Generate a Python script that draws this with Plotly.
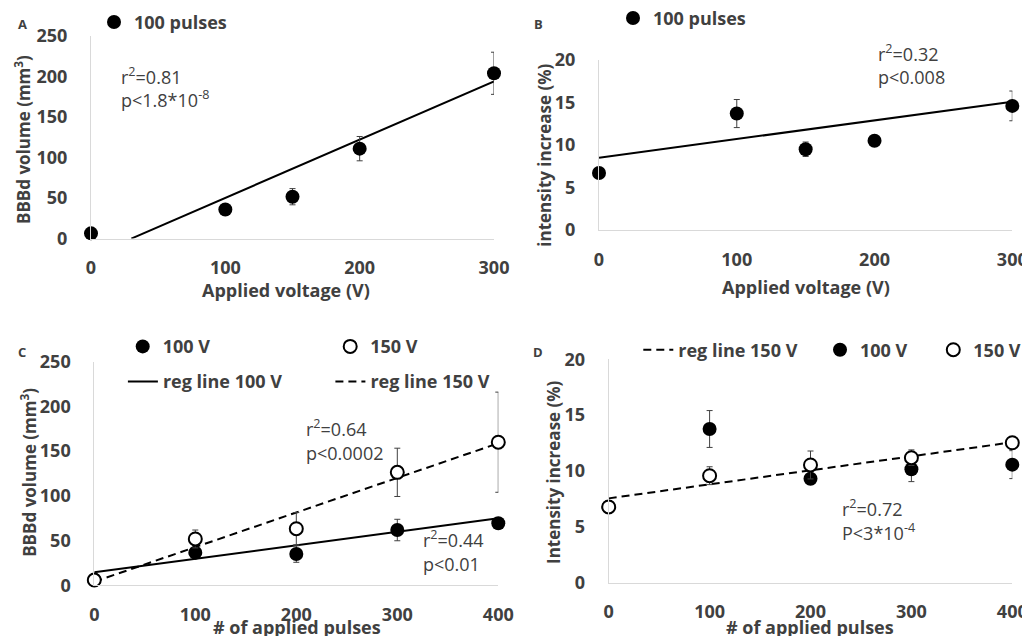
import plotly.graph_objects as go

# ---------------- data ----------------
volts = [0, 100, 150, 200, 300]
vol_A = [6.5, 36, 51.7, 111, 204]
err_A = [2, 3, 10, 15, 26]
regA_x = [30, 300]
regA_y = [0, 194]

int_B = [6.7, 13.7, 9.5, 10.5, 14.6]
err_B = [0.3, 1.65, 0.85, 0.3, 1.75]
regB_x = [0, 300]
regB_y = [8.5, 15.1]

pulses = [0, 100, 200, 300, 400]
vol_C_100 = [5.9, 36.5, 35, 61.8, 69.3]
err_C_100 = [1, 4, 9.3, 12, 5]
vol_C_150 = [5.9, 51.8, 63.3, 126.3, 160]
err_C_150 = [1, 10, 18, 27, 56]
regC100_x = [0, 400]
regC100_y = [14.5, 75]
regC150_x = [0, 400]
regC150_y = [4, 158.8]

int_D_100 = [6.8, 13.76, 9.3, 10.15, 10.57]
err_D_100 = [0.2, 1.65, 0.5, 1.1, 1.25]
int_D_150 = [6.78, 9.58, 10.54, 11.19, 12.53]
err_D_150 = [0.2, 0.8, 1.25, 0.7, 0.5]
regD150_x = [0, 400]
regD150_y = [7.55, 12.57]

# ---------------- styling ----------------
PAGE_W, PAGE_H = 1030, 636
BODY = 8                      # default page margin around the plot div
W, H = PAGE_W - BODY, PAGE_H - BODY
FONT = "Open Sans"
TXT = "#404040"
TICKFONT = dict(family=FONT, size=18, color=TXT, weight="bold")
LEGFONT = dict(family=FONT, size=18, color=TXT, weight="bold")


def px(x):
    return (x - BODY) / W


def py(y):
    return 1 - (y - BODY) / H


def err(vals):
    return dict(type="data", array=vals, visible=True, color="#404040",
                thickness=1, width=3)


filled = dict(symbol="circle", size=14, color="black")
hollow = dict(symbol="circle", size=13, color="white",
              line=dict(color="black", width=2))

fig = go.Figure()

# Panel A
fig.add_trace(go.Scatter(x=regA_x, y=regA_y, mode="lines",
                         line=dict(color="black", width=2), showlegend=False,
                         xaxis="x", yaxis="y"))
fig.add_trace(go.Scatter(x=volts, y=vol_A, mode="markers", marker=filled,
                         error_y=err(err_A), name="100 pulses", legend="legend",
                         cliponaxis=False, xaxis="x", yaxis="y"))
# Panel B
fig.add_trace(go.Scatter(x=regB_x, y=regB_y, mode="lines",
                         line=dict(color="black", width=2), showlegend=False,
                         xaxis="x2", yaxis="y2"))
fig.add_trace(go.Scatter(x=volts, y=int_B, mode="markers", marker=filled,
                         error_y=err(err_B), name="100 pulses", legend="legend2",
                         cliponaxis=False, xaxis="x2", yaxis="y2"))
# Panel C
fig.add_trace(go.Scatter(x=regC100_x, y=regC100_y, mode="lines",
                         line=dict(color="black", width=2),
                         name="reg line 100 V", legend="legend4",
                         xaxis="x3", yaxis="y3"))
fig.add_trace(go.Scatter(x=regC150_x, y=regC150_y, mode="lines",
                         line=dict(color="black", width=2, dash="8px,5px"),
                         name="reg line 150 V", legend="legend4",
                         xaxis="x3", yaxis="y3"))
fig.add_trace(go.Scatter(x=pulses, y=vol_C_100, mode="markers", marker=filled,
                         error_y=err(err_C_100), name="100 V", legend="legend3",
                         cliponaxis=False, xaxis="x3", yaxis="y3"))
fig.add_trace(go.Scatter(x=pulses, y=vol_C_150, mode="markers", marker=hollow,
                         error_y=err(err_C_150), name="150 V", legend="legend3",
                         cliponaxis=False, xaxis="x3", yaxis="y3"))
# Panel D
fig.add_trace(go.Scatter(x=regD150_x, y=regD150_y, mode="lines",
                         line=dict(color="black", width=2, dash="8px,5px"),
                         name="reg line 150 V", legend="legend5",
                         xaxis="x4", yaxis="y4"))
fig.add_trace(go.Scatter(x=pulses, y=int_D_100, mode="markers", marker=filled,
                         error_y=err(err_D_100), name="100 V", legend="legend6",
                         cliponaxis=False, xaxis="x4", yaxis="y4"))
fig.add_trace(go.Scatter(x=pulses, y=int_D_150, mode="markers", marker=hollow,
                         error_y=err(err_D_150), name="150 V", legend="legend7",
                         cliponaxis=False, xaxis="x4", yaxis="y4"))


def xax(dom, rng, anchor):
    return dict(domain=dom, range=rng, anchor=anchor, dtick=100, tick0=0,
                showgrid=False, zeroline=False, showline=True,
                linecolor="#d9d9d9", linewidth=1, ticks="",
                ticklabelstandoff=13, tickfont=TICKFONT, fixedrange=True)


def yax(dom, rng, dt, anchor):
    return dict(domain=dom, range=rng, anchor=anchor, dtick=dt, tick0=0,
                showgrid=False, zeroline=False, showline=True,
                linecolor="#d9d9d9", linewidth=1, ticks="",
                ticklabelstandoff=19, tickfont=TICKFONT, fixedrange=True)


def leg(x, y):
    return dict(x=px(x), y=py(y), xanchor="left", yanchor="middle",
                orientation="h", font=LEGFONT, bgcolor="rgba(0,0,0,0)",
                borderwidth=0, itemclick=False, itemdoubleclick=False)


OFF = 20  # legend symbol centre offset from legend left edge
legC = leg(142.7 - OFF, 346.7)
legC.update(entrywidth=162.5, entrywidthmode="pixels")
legC2 = leg(142.9 - OFF, 381.7)
legC2.update(entrywidth=162.5, entrywidthmode="pixels")

fig.update_layout(
    width=W, height=H,
    margin=dict(l=0, r=0, t=0, b=0, autoexpand=False),
    paper_bgcolor="white", plot_bgcolor="white",
    font=dict(family=FONT, color=TXT),
    xaxis=xax([px(91), px(494)], [0, 300], "y"),
    yaxis=yax([py(238.6), py(36)], [0, 250], 50, "x"),
    xaxis2=xax([px(599), px(1012.3)], [0, 300], "y2"),
    yaxis2=yax([py(230), py(60)], [0, 20], 5, "x2"),
    xaxis3=xax([px(94.3), px(498.3)], [0, 400], "y3"),
    yaxis3=yax([py(585.3), py(361.7)], [0, 250], 50, "x3"),
    xaxis4=xax([px(608.7), px(1012.3)], [0, 400], "y4"),
    yaxis4=yax([py(582.7), py(359.3)], [0, 20], 5, "x4"),
    legend=leg(114 - OFF, 22.3),
    legend2=leg(633 - OFF, 18.3),
    legend3=legC,
    legend4=legC2,
    legend5=leg(658.3 - OFF, 350),
    legend6=leg(840 - OFF, 350),
    legend7=leg(953.3 - OFF, 350),
)

ann = []


def note(text, x, y, size=18, bold=False, xanchor="left", angle=0):
    ann.append(dict(text=text, x=px(x), y=py(y), xref="paper", yref="paper",
                    xanchor=xanchor, yanchor="middle", showarrow=False,
                    textangle=angle,
                    font=dict(family=FONT, size=size, color=TXT,
                              weight="bold" if bold else "normal")))


# panel letters
note("A", 22, 24.3, 13, True, "center")
note("B", 538, 24, 13, True, "center")
note("C", 21.7, 351.7, 13, True, "center")
note("D", 538.3, 351.7, 13, True, "center")

# axis titles
note("Applied voltage (V)", 286.3, 290, 18, True, "center")
note("Applied voltage (V)", 805.8, 287, 18, True, "center")
note("# of applied pulses", 296.7, 627, 18, True, "center")
note("# of applied pulses", 810, 627.3, 18, True, "center")
note("BBBd volume (mm<sup>3</sup>)", 23, 140, 17, True, "center", -90)
note("intensity increase (%)", 545, 155.7, 17, True, "center", -90)
note("BBBd volume (mm<sup>3</sup>)", 28.3, 472.5, 17, True, "center", -90)
note("Intensity increase (%)", 553.3, 471.7, 17, True, "center", -90)

# statistics
note("r<sup>2</sup>=0.81", 119.3, 76)
note("p&lt;1.8*10<sup>-8</sup>", 119.3, 99)
note("r<sup>2</sup>=0.32", 876, 53.3)
note("p&lt;0.008", 876, 77.3)
note("r<sup>2</sup>=0.64", 304, 428.3)
note("p&lt;0.0002", 304, 453.3)
note("r<sup>2</sup>=0.44", 420.7, 538.7)
note("p&lt;0.01", 420.7, 564)
note("r<sup>2</sup>=0.72", 840, 508.3)
note("P&lt;3*10<sup>-4</sup>", 840, 531.7)

fig.update_layout(annotations=ann)

fig.write_html("out.html", config={"displayModeBar": False})
